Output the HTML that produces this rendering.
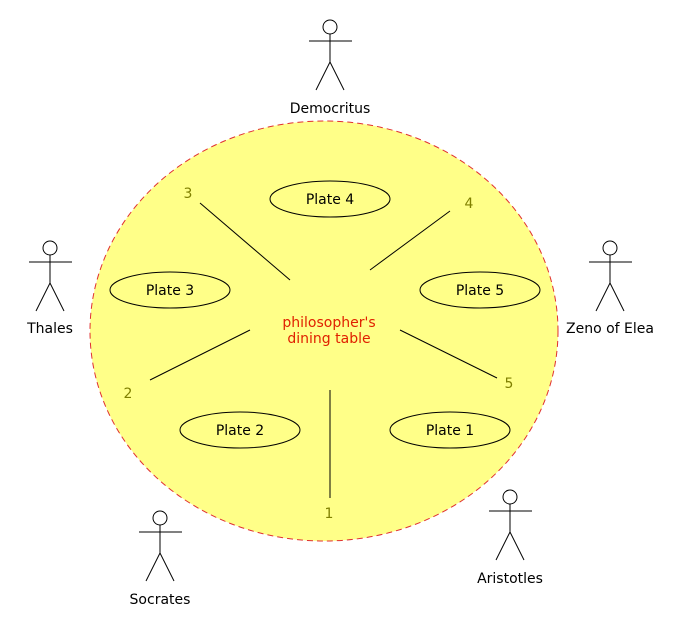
<!DOCTYPE html>
<html><head><meta charset="utf-8"><style>body{margin:0;background:#fff}svg{display:block}</style></head><body>
<svg width="680" height="640" viewBox="0 0 680 640" xmlns="http://www.w3.org/2000/svg" font-family="DejaVu Sans, sans-serif" font-size="14">
<defs>
<g id="actor" stroke="#000" stroke-width="1" fill="none">
<circle cx="0" cy="0" r="7" fill="#fff"/>
<line x1="-21" y1="14" x2="22" y2="14"/>
<line x1="0" y1="7" x2="0" y2="35"/>
<line x1="0" y1="35" x2="-14" y2="63"/>
<line x1="0" y1="35" x2="14" y2="63"/>
</g>
</defs>
<ellipse cx="324" cy="331" rx="234" ry="210" fill="#ffff88" stroke="#e03030" stroke-dasharray="6,4"/>
<g fill="none" stroke="#000">
<ellipse cx="330" cy="199" rx="60" ry="18"/>
<ellipse cx="170" cy="290" rx="60" ry="18"/>
<ellipse cx="480" cy="290" rx="60" ry="18"/>
<ellipse cx="240" cy="430" rx="60" ry="18"/>
<ellipse cx="450" cy="430" rx="60" ry="18"/>
<line x1="200" y1="203" x2="290" y2="280"/>
<line x1="450" y1="211" x2="370" y2="270"/>
<line x1="150" y1="380" x2="250" y2="330"/>
<line x1="400" y1="330" x2="497" y2="378"/>
<line x1="330" y1="390" x2="330" y2="498"/>
</g>
<g text-anchor="middle" fill="#000">
<text x="330" y="204">Plate 4</text>
<text x="170" y="295">Plate 3</text>
<text x="480" y="295">Plate 5</text>
<text x="240" y="435">Plate 2</text>
<text x="450" y="435">Plate 1</text>
</g>
<g text-anchor="middle" fill="#808000">
<text x="188" y="198">3</text>
<text x="469" y="208">4</text>
<text x="128" y="398">2</text>
<text x="509" y="388">5</text>
<text x="329" y="518">1</text>
</g>
<g text-anchor="middle" fill="#e02000">
<text x="329" y="327">philosopher's</text>
<text x="329" y="343">dining table</text>
</g>
<use href="#actor" x="330" y="27"/>
<use href="#actor" x="50" y="248"/>
<use href="#actor" x="610" y="248"/>
<use href="#actor" x="160" y="518"/>
<use href="#actor" x="510" y="497"/>
<g text-anchor="middle" fill="#000">
<text x="330" y="113">Democritus</text>
<text x="50" y="333">Thales</text>
<text x="610" y="333">Zeno of Elea</text>
<text x="160" y="604">Socrates</text>
<text x="510" y="583">Aristotles</text>
</g>
</svg>
</body></html>
